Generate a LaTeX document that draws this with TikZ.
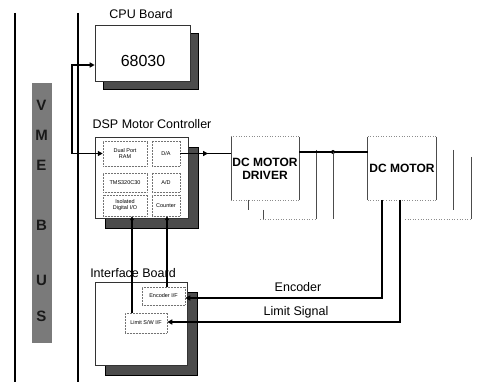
\documentclass[tikz,border=0pt]{standalone}
\usepackage{fontspec}
\setmainfont{Liberation Sans}
\usetikzlibrary{arrows.meta,decorations.markings,calc}
\begin{document}
\begin{tikzpicture}[x=1pt,y=-1pt,
  face/.style={draw=black!80, line width=0.6pt, fill=white, inner sep=0pt},
  boxshadow/.style={fill=black!70, draw=black, line width=0.4pt, inner sep=0pt},
  wire/.style={line width=1.6pt, black},
  bus/.style={line width=1.6pt, black},
  cell/.style={draw=black!55, densely dotted, line width=0.5pt, inner sep=0pt, font=\fontsize{5.5}{6}\selectfont, align=center},
  lbl/.style={font=\fontsize{12.5}{14}\selectfont, inner sep=0pt},
  big/.style={font=\bfseries\fontsize{12}{13}\selectfont, inner sep=0pt, align=center},
  faint/.style={draw=black!70, line width=0.6pt},
  faintdot/.style={draw=black!45, line width=0.6pt, dotted},
  vmel/.style={font=\bfseries\fontsize{15}{15}\selectfont, text=black!90, inner sep=0pt},
  tip/.style={-{Triangle[length=5pt,width=5pt]}},
  midtip/.style={postaction={decorate}, decoration={markings, mark=at position 0.55 with {\arrow{Triangle[length=5pt,width=5pt]}}}}
]
\useasboundingbox (0,0) rectangle (477,382);

% bus lines
\coordinate (b1t) at (15,13); \coordinate (b1b) at (15,382);
\coordinate (b2t) at (78,13); \coordinate (b2b) at (78,382);
\draw[bus] (b1t) -- (b1b);
\draw[bus] (b2t) -- (b2b);

% VME bar
\node[fill=black!52, minimum width=20pt, minimum height=260pt, inner sep=0pt] (vme) at (41.5,213) {};
\node[vmel] (lv) at (41.5,105) {V};
\node[vmel] (lm) at (41.5,135) {M};
\node[vmel] (le) at (41.5,165) {E};
\node[vmel] (lb) at (41.5,225) {B};
\node[vmel] (lu) at (41.5,280) {U};
\node[vmel] (ls) at (41.5,316) {S};

% shadows (extruded sides)
\node[boxshadow, minimum width=95pt, minimum height=56pt] (cpus) at (150.5,61) {};
\node[boxshadow, minimum width=93pt, minimum height=81pt] (dsps) at (151.5,187.5) {};
\node[boxshadow, minimum width=92pt, minimum height=83pt] (ifbs) at (151,333.5) {};

% CPU board
\node[face, minimum width=95pt, minimum height=56pt] (cpu) at (142.5,53) {};
\node[lbl] (cpul) at (141,14) {CPU Board};
\node[font=\fontsize{16}{18}\selectfont, inner sep=0pt] (cpun) at (143,61) {68030};

% DSP controller
\node[face, minimum width=93pt, minimum height=81pt] (dsp) at (141.5,177.5) {};
\node[lbl] (dspl) at (152,124) {DSP Motor Controller};
\node[cell, minimum width=44pt, minimum height=25pt] (ram) at (125,153.5) {Dual Port\\RAM};
\node[cell, minimum width=44pt, minimum height=19pt] (tms) at (125,182.5) {TMS320C30};
\node[cell, minimum width=44pt, minimum height=21pt] (dio) at (125,205.5) {Isolated\\Digital I/O};
\node[cell, minimum width=28pt, minimum height=25pt] (da) at (166,153.5) {D/A};
\node[cell, minimum width=28pt, minimum height=19pt] (ad) at (166,182.5) {A/D};
\node[cell, minimum width=28pt, minimum height=21pt] (cnt) at (166,205.5) {Counter};

% Interface board
\node[face, minimum width=92pt, minimum height=83pt] (ifb) at (141,323.5) {};
\node[lbl] (ifbl) at (133,273) {Interface Board};
\node[cell, minimum width=43pt, minimum height=18pt] (enc) at (163.5,296) {Encoder I/F};
\node[cell, minimum width=42pt, minimum height=20pt] (lim) at (146,323) {Limit S/W I/F};

% bracket from bus to CPU and DSP
\coordinate (brt) at (72,65);
\coordinate (brb) at (72,153.5);
\draw[wire, {Triangle[length=5pt,width=5pt]}-{Triangle[length=5pt,width=5pt]}] (brt -| cpu.west) -- (brt) -- (brb) -- (brb -| ram.west);

% DSP to interface
\coordinate (c1) at (132,0);
\coordinate (c2) at (167,0);
\draw[wire, {Triangle[length=4pt,width=4pt]}-] (dio.south -| c1) -- (lim.north -| c1);
\draw[wire, {Triangle[length=4pt,width=4pt]}-] (cnt.south -| c2) -- (enc.north -| c2);

% DC motor driver
\node[big, minimum width=68pt, minimum height=63pt] (drv) at (265,168.5) {DC MOTOR\\DRIVER};
\draw[faint] (drv.north west) -- (drv.south west);
\draw[faint] (drv.north east) -- (drv.south east);
\draw[faintdot] (drv.north west) -- (drv.north east);
\draw[faintdot] (drv.south west) -- (drv.south east);
\coordinate (dk1) at (316,150); \coordinate (dk2) at (316,219); \coordinate (dk3) at (260,219);
\draw[faint] (dk1) -- (dk2);
\draw[faintdot] (dk3) -- (dk2);
\coordinate (ds1) at (248,200); \coordinate (ds2) at (263,210);
\draw[faint, line width=1pt] (ds1) -- ++(0,10);
\draw[faint, line width=1pt] (ds2) -- ++(0,9);

% DC motor
\node[big, minimum width=68pt, minimum height=63pt] (mot) at (402,168.5) {DC MOTOR};
\draw[faint, line width=0.9pt] (mot.north west) -- (mot.south west);
\draw[faint, line width=1pt] (mot.north east) -- (mot.south east);
\draw[faintdot] (mot.north west) -- (mot.north east);
\draw[faintdot] (mot.south west) -- (mot.south east);
\coordinate (mk1) at (453,150); \coordinate (mk2) at (471,157); \coordinate (mk3) at (405,219);
\draw[faint, line width=0.9pt] (mk1) -- ++(0,60);
\draw[faint, line width=0.9pt] (mk2) -- ++(0,62);
\draw[faintdot] (mk3) -- (mk2 |- mk3);

% DSP to driver
\draw[wire, midtip] (da.east) -- (da.east -| drv.west);

% driver to motor
\coordinate (j) at (333,152);
\draw[wire] (j -| drv.east) -- (j -| mot.west);
\fill (j) circle (2pt);
\draw[faint, line width=0.9pt] (j) -- ++(0,67);

% encoder and limit feedback
\coordinate (e1) at (382,200); \coordinate (e2) at (382,298);
\coordinate (l1) at (400,200); \coordinate (l2) at (400,322);
\draw[wire, tip] (e1) -- (e2) -- (e2 -| enc.east);
\draw[wire, tip] (l1) -- (l2) -- (l2 -| lim.east);
\node[lbl] (encl) at (298,287) {Encoder};
\node[lbl] (liml) at (296,312) {Limit Signal};
\end{tikzpicture}
\end{document}
